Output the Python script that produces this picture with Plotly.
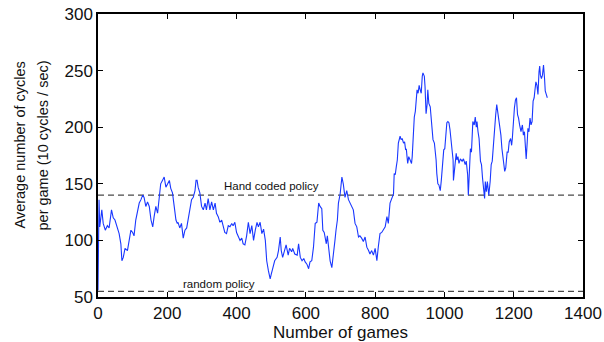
import plotly.graph_objects as go

games = [0, 2, 3, 5, 11, 15, 21, 27, 32, 39, 44, 49, 56, 61, 66, 69, 73, 78, 85, 90, 95, 100, 104, 109, 114, 119, 124, 129, 133, 138, 143, 148, 153, 158, 162, 167, 172, 177, 181, 186, 191, 196, 201, 206, 210, 215, 220, 225, 229, 231, 236, 241, 246, 251, 256, 260, 265, 270, 275, 280, 283, 286, 289, 294, 299, 304, 309, 313, 318, 323, 328, 333, 338, 342, 347, 352, 357, 362, 366, 371, 376, 381, 386, 390, 395, 400, 405, 410, 415, 419, 424, 429, 434, 439, 444, 449, 454, 459, 463, 468, 473, 478, 483, 487, 492, 497, 500, 504, 510, 517, 521, 526, 529, 533, 539, 543, 549, 553, 559, 562, 568, 575, 579, 584, 589, 594, 598, 603, 608, 612, 617, 622, 627, 632, 637, 641, 646, 649, 653, 659, 662, 666, 670, 675, 679, 684, 687, 691, 694, 699, 704, 708, 713, 718, 723, 728, 732, 737, 742, 747, 752, 756, 761, 766, 771, 776, 781, 785, 790, 795, 800, 805, 809, 814, 819, 824, 829, 834, 838, 843, 848, 853, 855, 858, 861, 864, 867, 870, 872, 875, 878, 882, 885, 888, 890, 892, 894, 897, 901, 905, 907, 911, 913, 916, 919, 921, 924, 927, 930, 933, 936, 938, 942, 944, 947, 950, 952, 955, 959, 962, 964, 967, 971, 974, 976, 978, 981, 984, 988, 991, 994, 996, 998, 1001, 1004, 1007, 1010, 1013, 1016, 1018, 1020, 1023, 1025, 1026, 1028, 1031, 1034, 1036, 1039, 1042, 1046, 1051, 1055, 1060, 1063, 1067, 1069, 1072, 1075, 1078, 1081, 1082, 1086, 1089, 1092, 1094, 1097, 1100, 1104, 1107, 1110, 1113, 1116, 1118, 1121, 1124, 1128, 1132, 1135, 1138, 1142, 1145, 1148, 1151, 1154, 1156, 1159, 1163, 1166, 1171, 1174, 1177, 1181, 1184, 1187, 1191, 1194, 1196, 1199, 1202, 1205, 1208, 1211, 1214, 1217, 1221, 1225, 1228, 1231, 1234, 1236, 1239, 1241, 1244, 1247, 1250, 1253, 1256, 1259, 1261, 1264, 1267, 1270, 1273, 1275, 1277, 1280, 1283, 1286, 1289, 1291, 1294, 1297]

cycles = [56, 134, 136, 112, 127, 115, 109, 113, 111, 127, 120, 118, 112, 106, 97, 82, 85, 93, 91, 102, 109, 107, 104, 118, 127, 133, 136, 140, 138, 130, 134, 130, 118, 112, 121, 130, 124, 142, 150, 153, 156, 147, 150, 153, 146, 142, 130, 118, 115, 116, 111, 115, 102, 109, 111, 118, 127, 136, 138, 144, 153, 153, 147, 142, 130, 127, 133, 127, 137, 127, 134, 127, 133, 124, 121, 116, 118, 112, 107, 106, 113, 112, 115, 113, 116, 107, 103, 100, 102, 97, 96, 104, 116, 106, 113, 100, 109, 116, 112, 116, 106, 110, 100, 82, 73, 66, 70, 76, 82, 85, 91, 103, 91, 85, 91, 96, 87, 93, 90, 93, 88, 87, 97, 85, 82, 84, 81, 79, 75, 81, 82, 94, 115, 116, 133, 130, 128, 109, 107, 97, 104, 91, 82, 76, 85, 100, 109, 118, 133, 141, 156, 150, 138, 144, 136, 133, 130, 127, 115, 112, 103, 104, 102, 99, 103, 94, 91, 88, 91, 87, 93, 82, 94, 106, 107, 110, 112, 121, 115, 133, 138, 141, 159, 158, 165, 171, 186, 189, 192, 189, 190, 186, 187, 180, 181, 174, 168, 174, 171, 168, 174, 200, 209, 214, 230, 233, 230, 237, 233, 230, 245, 248, 245, 236, 212, 220, 233, 221, 218, 208, 204, 189, 186, 178, 171, 159, 150, 149, 144, 153, 162, 171, 180, 181, 192, 204, 205, 204, 198, 192, 192, 180, 171, 153, 162, 168, 177, 171, 174, 168, 172, 170, 172, 167, 170, 158, 140, 167, 181, 178, 196, 205, 202, 209, 200, 205, 196, 190, 170, 167, 155, 146, 137, 152, 143, 152, 140, 152, 167, 170, 187, 205, 211, 220, 214, 208, 202, 193, 181, 167, 161, 164, 178, 178, 187, 190, 184, 190, 205, 217, 224, 226, 211, 208, 202, 196, 202, 193, 196, 184, 172, 187, 199, 196, 208, 202, 205, 223, 226, 232, 240, 237, 229, 249, 254, 246, 243, 246, 255, 243, 232, 229, 226]

hand_coded_level = 140
random_level = 55
x_span = [0, 1400]
x_ticks = [0, 200, 400, 600, 800, 1000, 1200, 1400]
y_ticks = [50, 100, 150, 200, 250, 300]
y_title_lines = ["Average number of cycles", "per game (10 cycles / sec)"]

FONT = "Liberation Sans, Arial, sans-serif"

fig = go.Figure()
fig.add_trace(go.Scatter(x=x_span, y=[hand_coded_level] * 2, mode="lines",
                         line=dict(color="#4a4a4a", width=1.3, dash="6px,4px"),
                         hoverinfo="skip", showlegend=False))
fig.add_trace(go.Scatter(x=x_span, y=[random_level] * 2, mode="lines",
                         line=dict(color="#4a4a4a", width=1.3, dash="6px,4px"),
                         hoverinfo="skip", showlegend=False))
fig.add_trace(go.Scatter(x=games, y=cycles, mode="lines",
                         line=dict(color="rgb(25,55,255)", width=1.1),
                         showlegend=False))

fig.add_annotation(x=500, y=hand_coded_level, text="Hand coded policy", showarrow=False,
                   yshift=9, font=dict(family=FONT, size=11.5, color="#111"))
fig.add_annotation(x=348, y=random_level, text="random policy", showarrow=False,
                   yshift=7, font=dict(family=FONT, size=11.5, color="#111"))

# y-axis title: two rotated lines left of the tick labels
for line_text, shift in zip(y_title_lines, [-79, -56]):
    fig.add_annotation(xref="paper", yref="paper", x=0, y=0.5, xanchor="center",
                       yanchor="middle", xshift=shift, yshift=10, textangle=-90,
                       showarrow=False, text=line_text,
                       font=dict(family=FONT, size=14.5, color="#111"))

axis_common = dict(showgrid=False, zeroline=False, showline=True, linecolor="black",
                   linewidth=1.5, mirror="ticks", ticks="inside", ticklen=5,
                   tickcolor="black", tickwidth=1, automargin=False,
                   ticklabeloverflow="allow",
                   tickfont=dict(family=FONT, size=17, color="#111"))

fig.update_xaxes(range=[0, 1400], tickvals=x_ticks,
                 title=dict(text="Number of games", font=dict(family=FONT, size=17, color="#111"),
                            standoff=3),
                 **axis_common)
fig.update_yaxes(range=[50, 300], tickvals=y_ticks, **axis_common)

fig.update_layout(width=604, height=342, margin=dict(l=98, r=21, t=14, b=45),
                  paper_bgcolor="white", plot_bgcolor="white",
                  font=dict(family=FONT))

fig.write_html("out.html", config={"displayModeBar": False},
               post_script="document.body.style.margin='0';")
